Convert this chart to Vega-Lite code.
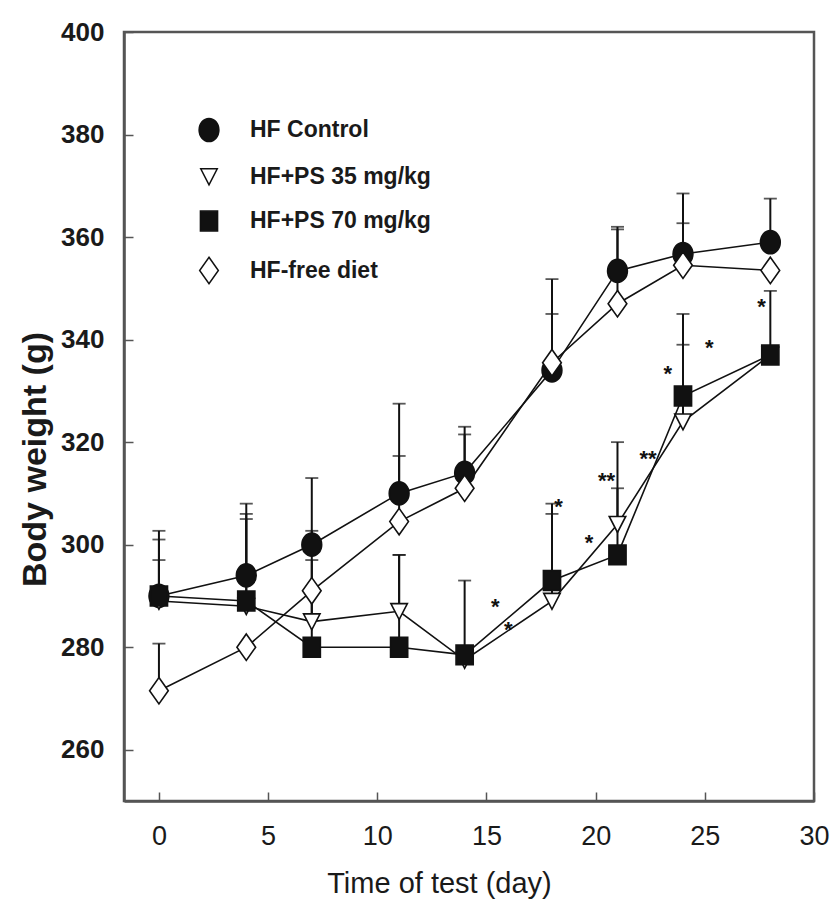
{
  "$schema": "https://vega.github.io/schema/vega-lite/v6.json",
  "width": 690,
  "height": 769,
  "autosize": {"type": "none"},
  "padding": {"left": 124, "top": 32, "right": 21, "bottom": 111},
  "background": "white",
  "config": {
    "view": {"stroke": "#555555", "strokeWidth": 2.5},
    "axis": {"grid": false, "domainColor": "#555555", "domainWidth": 2.5, "tickColor": "#555555", "tickWidth": 1.5, "tickSize": -9, "labelColor": "#1a1a1a", "titleColor": "#1a1a1a"},
    "legend": {
      "title": null, "orient": "none", "legendX": 73, "legendY": 86,
      "symbolSize": 484,
      "labelFont": "Liberation Sans", "labelFontSize": 23, "labelFontWeight": "bold", "labelColor": "#1a1a1a",
      "labelOffset": 29, "rowPadding": 19.5, "padding": 0, "labelLimit": 400
    }
  },
  "datasets": {
    "weights": [
      {"series": "HF  Control", "day": 0, "mean": 290, "upper": 302.7},
      {"series": "HF  Control", "day": 4, "mean": 294, "upper": 308},
      {"series": "HF  Control", "day": 7, "mean": 300, "upper": 313},
      {"series": "HF  Control", "day": 11, "mean": 310, "upper": 327.5},
      {"series": "HF  Control", "day": 14, "mean": 314, "upper": 323},
      {"series": "HF  Control", "day": 18, "mean": 334, "upper": 351.8},
      {"series": "HF  Control", "day": 21, "mean": 353.4, "upper": 362},
      {"series": "HF  Control", "day": 24, "mean": 356.7, "upper": 368.5},
      {"series": "HF  Control", "day": 28, "mean": 359, "upper": 367.5},
      {"series": "HF+PS 35 mg/kg", "day": 0, "mean": 289, "upper": 301},
      {"series": "HF+PS 35 mg/kg", "day": 4, "mean": 288, "upper": 306},
      {"series": "HF+PS 35 mg/kg", "day": 7, "mean": 285, "upper": 302.7},
      {"series": "HF+PS 35 mg/kg", "day": 11, "mean": 287, "upper": 298},
      {"series": "HF+PS 35 mg/kg", "day": 14, "mean": 277.5, "upper": null},
      {"series": "HF+PS 35 mg/kg", "day": 18, "mean": 289, "upper": 308},
      {"series": "HF+PS 35 mg/kg", "day": 21, "mean": 304, "upper": 320},
      {"series": "HF+PS 35 mg/kg", "day": 24, "mean": 324, "upper": 339},
      {"series": "HF+PS 35 mg/kg", "day": 28, "mean": 337, "upper": null},
      {"series": "HF+PS 70 mg/kg", "day": 0, "mean": 290, "upper": 297},
      {"series": "HF+PS 70 mg/kg", "day": 4, "mean": 289, "upper": 305},
      {"series": "HF+PS 70 mg/kg", "day": 7, "mean": 280, "upper": 297},
      {"series": "HF+PS 70 mg/kg", "day": 11, "mean": 280, "upper": 298},
      {"series": "HF+PS 70 mg/kg", "day": 14, "mean": 278.5, "upper": 293},
      {"series": "HF+PS 70 mg/kg", "day": 18, "mean": 293, "upper": 306},
      {"series": "HF+PS 70 mg/kg", "day": 21, "mean": 298, "upper": 311},
      {"series": "HF+PS 70 mg/kg", "day": 24, "mean": 329, "upper": 345},
      {"series": "HF+PS 70 mg/kg", "day": 28, "mean": 337, "upper": 349.5},
      {"series": "HF-free diet", "day": 0, "mean": 271.5, "upper": 280.7},
      {"series": "HF-free diet", "day": 4, "mean": 280, "upper": null},
      {"series": "HF-free diet", "day": 7, "mean": 291, "upper": null},
      {"series": "HF-free diet", "day": 11, "mean": 304.5, "upper": 317.3},
      {"series": "HF-free diet", "day": 14, "mean": 311, "upper": 321.5},
      {"series": "HF-free diet", "day": 18, "mean": 335.5, "upper": 345},
      {"series": "HF-free diet", "day": 21, "mean": 347, "upper": 361.5},
      {"series": "HF-free diet", "day": 24, "mean": 354.5, "upper": 362.7},
      {"series": "HF-free diet", "day": 28, "mean": 353.5, "upper": null}
    ],
    "stars": [
      {"day": 15.4, "value": 289, "mark": "*"},
      {"day": 16.0, "value": 284.5, "mark": "*"},
      {"day": 18.3, "value": 308.5, "mark": "*"},
      {"day": 19.7, "value": 301.5, "mark": "*"},
      {"day": 20.5, "value": 313.5, "mark": "**"},
      {"day": 22.4, "value": 317.8, "mark": "**"},
      {"day": 23.3, "value": 334.5, "mark": "*"},
      {"day": 25.2, "value": 339.5, "mark": "*"},
      {"day": 27.6, "value": 347.5, "mark": "*"}
    ]
  },
  "encoding": {
    "x": {"field": "day", "type": "quantitative", "scale": {"domain": [-1.6, 30], "nice": false, "zero": false},
      "axis": {"values": [0, 5, 10, 15, 20, 25, 30], "title": "Time of test (day)", "labelFont": "Liberation Sans", "labelFontSize": 27, "labelFontWeight": "normal", "labelPadding": 31, "labelFlush": false, "titleFont": "Liberation Sans", "titleFontSize": 29, "titleFontWeight": "normal", "titlePadding": 20, "titleX": 315, "titleAnchor": "middle"}},
    "y": {"field": "mean", "type": "quantitative", "scale": {"domain": [250, 400], "nice": false, "zero": false},
      "axis": {"values": [260, 280, 300, 320, 340, 360, 380, 400], "title": "Body weight (g)", "labelFont": "Liberation Sans", "labelFontSize": 26, "labelFontWeight": "bold", "labelPadding": 29, "labelFlush": false, "titleFont": "Liberation Sans", "titleFontSize": 34, "titleFontWeight": "bold", "titleX": -72, "titleY": 427, "titleAlign": "center", "titleBaseline": "bottom", "titleAngle": -90}}
  },
  "layer": [
    {
      "data": {"name": "weights"},
      "transform": [{"filter": "datum.upper != null"}],
      "mark": {"type": "rule", "color": "#111111", "strokeWidth": 2},
      "encoding": {"y2": {"field": "upper"}}
    },
    {
      "data": {"name": "weights"},
      "transform": [{"filter": "datum.upper != null"}],
      "mark": {"type": "tick", "orient": "horizontal", "color": "#111111", "thickness": 1.8, "size": 13},
      "encoding": {"y": {"field": "upper", "type": "quantitative"}}
    },
    {
      "data": {"name": "weights"},
      "mark": {"type": "line", "color": "#111111", "strokeWidth": 1.6},
      "encoding": {"detail": {"field": "series"}}
    },
    {
      "data": {"name": "weights"},
      "mark": {"type": "point", "filled": true, "stroke": "#111111", "strokeWidth": 1.6, "opacity": 1, "size": 484},
      "encoding": {
        "shape": {"field": "series", "type": "nominal",
          "scale": {"domain": ["HF  Control", "HF+PS 35 mg/kg", "HF+PS 70 mg/kg", "HF-free diet"],
            "range": ["M-0.9,0A0.9,1.05 0 1,1 0.9,0A0.9,1.05 0 1,1 -0.9,0Z", "M-0.75,-0.7H0.75L0,0.75Z", "M-0.78,-0.9H0.78V0.9H-0.78Z", "M0,-1.2L0.85,0L0,1.2L-0.85,0Z"]},
          "legend": {
            "encode": {"symbols": {
              "stroke": {"value": "#111111"},
              "strokeWidth": {"value": 1.6},
              "opacity": {"value": 1}}}
          }},
        "fill": {"field": "series", "type": "nominal",
          "scale": {"domain": ["HF  Control", "HF+PS 35 mg/kg", "HF+PS 70 mg/kg", "HF-free diet"], "range": ["#111111", "#ffffff", "#111111", "#ffffff"]},
          "legend": {
            "encode": {"symbols": {
              "stroke": {"value": "#111111"},
              "strokeWidth": {"value": 1.6},
              "opacity": {"value": 1}}}
          }}
      }
    },
    {
      "data": {"name": "stars"},
      "mark": {"type": "text", "font": "Liberation Sans", "fontSize": 22, "fontWeight": "bold", "color": "#111111", "baseline": "middle", "dy": 6},
      "encoding": {"y": {"field": "value", "type": "quantitative"}, "text": {"field": "mark"}}
    }
  ]
}
